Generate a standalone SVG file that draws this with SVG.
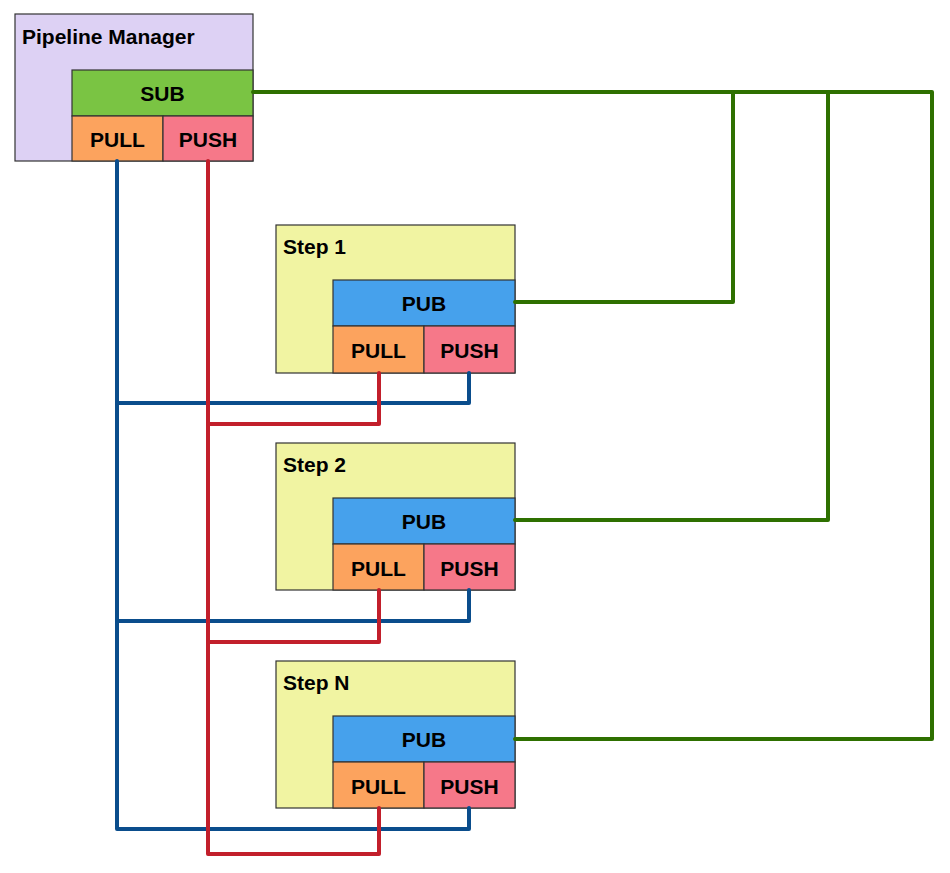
<svg xmlns="http://www.w3.org/2000/svg" width="950" height="873" viewBox="0 0 950 873">
<style>
.box{stroke:#333;stroke-width:1.2}
.t{font-family:"Liberation Sans",Arial,sans-serif;font-weight:bold;font-size:21px;fill:#000}
.c{text-anchor:middle}
.w{fill:none;stroke-width:4;stroke-linejoin:round;stroke-linecap:round}
.g{stroke:#2e7000}
.b{stroke:#0a4d8c}
.r{stroke:#c21f2b}
.pm{fill:#ddd1f4}
.sub{fill:#7ac443}
.pull{fill:#fca35e}
.push{fill:#f67889}
.st{fill:#f1f4a2}
.pub{fill:#46a1ec}
</style>
<rect width="950" height="873" fill="#fff"/>
<g id="pipeline-manager">
<rect class="box pm" x="15" y="14" width="238" height="147"/>
<text class="t" x="22" y="44">Pipeline Manager</text>
<rect class="box sub" x="72" y="70" width="181" height="46"/>
<text class="t c" x="162.5" y="101">SUB</text>
<rect class="box pull" x="72" y="116" width="91" height="45"/>
<text class="t c" x="117.5" y="147">PULL</text>
<rect class="box push" x="163" y="116" width="90" height="45"/>
<text class="t c" x="208" y="147">PUSH</text>
</g>
<g id="step-1">
<rect class="box st" x="276" y="225" width="239" height="148"/>
<text class="t" x="283" y="254">Step 1</text>
<rect class="box pub" x="333" y="280" width="182" height="46"/>
<text class="t c" x="424" y="311">PUB</text>
<rect class="box pull" x="333" y="326" width="91" height="47"/>
<text class="t c" x="378.5" y="358">PULL</text>
<rect class="box push" x="424" y="326" width="91" height="47"/>
<text class="t c" x="469.5" y="358">PUSH</text>
</g>
<g id="step-2">
<rect class="box st" x="276" y="443" width="239" height="147"/>
<text class="t" x="283" y="472">Step 2</text>
<rect class="box pub" x="333" y="498" width="182" height="46"/>
<text class="t c" x="424" y="529">PUB</text>
<rect class="box pull" x="333" y="544" width="91" height="46"/>
<text class="t c" x="378.5" y="576">PULL</text>
<rect class="box push" x="424" y="544" width="91" height="46"/>
<text class="t c" x="469.5" y="576">PUSH</text>
</g>
<g id="step-n">
<rect class="box st" x="276" y="661" width="239" height="147"/>
<text class="t" x="283" y="690">Step N</text>
<rect class="box pub" x="333" y="716" width="182" height="46"/>
<text class="t c" x="424" y="747">PUB</text>
<rect class="box pull" x="333" y="762" width="91" height="46"/>
<text class="t c" x="378.5" y="794">PULL</text>
<rect class="box push" x="424" y="762" width="91" height="46"/>
<text class="t c" x="469.5" y="794">PUSH</text>
</g>
<g id="connectors">
<path class="w g" d="M253 92 H932 V739 H515"/>
<path class="w g" d="M733 92 V302 H515"/>
<path class="w g" d="M828 92 V520 H515"/>
<path class="w b" d="M117 161 V829 H469 V808"/>
<path class="w b" d="M117 403 H469 V373"/>
<path class="w b" d="M117 621 H469 V590"/>
<path class="w r" d="M208 161 V854 H379 V808"/>
<path class="w r" d="M208 424 H379 V373"/>
<path class="w r" d="M208 642 H379 V590"/>
</g>
</svg>
